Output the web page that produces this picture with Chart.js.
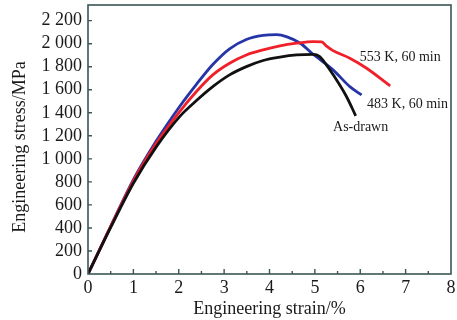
<!DOCTYPE html>
<html lang="en">

<head>
    <meta charset="UTF-8">
    <title>Engineering stress-strain curves</title>
    <script src="https://cdn.jsdelivr.net/npm/chart.js"></script>
    <style>
        body {
            margin: 0;
            padding: 0;
            background: #ffffff;
        }

        .chart-container {
            position: relative;
            width: 457px;
            height: 320px;
        }
    </style>
</head>

<body>
    <div class="chart-container">
        <canvas id="stressStrainChart"></canvas>
    </div>

    <script>
        // As-drawn
        const drawnStrain = [0, 0.5, 1.0, 1.5, 2.02, 2.39, 2.75, 3.12, 3.49, 3.86, 4.23, 4.6, 4.96, 5.1, 5.25, 5.4, 5.69, 5.9];
        const drawnStress = [0, 404, 788, 1102, 1367, 1506, 1627, 1729, 1801, 1854, 1883, 1902, 1908, 1890, 1819, 1733, 1546, 1374];

        // 483 K, 60 min
        const k483Strain = [0, 0.5, 1.0, 1.5, 2.02, 2.39, 2.75, 3.12, 3.49, 3.86, 4.16, 4.37, 4.68, 4.96, 5.4, 5.77, 6.03];
        const k483Stress = [0, 414, 819, 1152, 1455, 1647, 1819, 1956, 2037, 2072, 2078, 2062, 2004, 1908, 1773, 1627, 1555];

        // 553 K, 60 min
        const k553Strain = [0, 0.5, 1.0, 1.5, 2.02, 2.39, 2.75, 3.12, 3.49, 3.86, 4.23, 4.6, 4.96, 5.15, 5.25, 5.4, 5.77, 6.14, 6.66];
        const k553Stress = [0, 414, 809, 1132, 1411, 1585, 1729, 1830, 1902, 1946, 1981, 2004, 2018, 2016, 1981, 1940, 1874, 1787, 1633];

        const yTickValues = [0, 200, 400, 600, 800, 1000, 1200, 1400, 1600, 1800, 2000, 2200];

        const curveLabels = [
            { text: '553 K, 60 min', x: 5.99, y: 1885 },
            { text: '483 K, 60 min', x: 6.15, y: 1477 },
            { text: 'As-drawn', x: 5.40, y: 1278 }
        ];

        const toPoints = (xs, ys) => xs.map((x, i) => ({ x: x, y: ys[i] }));
        const frameColor = '#3b5656';
        const serif = "'Liberation Serif', 'DejaVu Serif', serif";
        const noPad = s => { s.paddingTop = 0; s.paddingBottom = 0; s.paddingLeft = 0; s.paddingRight = 0; };

        // frame, inward ticks and text labels
        const framePlugin = {
            id: 'framePlugin',
            afterDraw(chart) {
                const ctx = chart.ctx;
                const area = chart.chartArea;
                const xs = chart.scales.x;
                const ys = chart.scales.y;
                ctx.save();
                ctx.strokeStyle = frameColor;
                ctx.lineWidth = 1.6;
                ctx.strokeRect(area.left, area.top, area.right - area.left, area.bottom - area.top);

                ctx.lineWidth = 1.4;
                ctx.beginPath();
                for (let v = 0.5; v < 8; v += 0.5) {
                    const px = xs.getPixelForValue(v);
                    const len = Number.isInteger(v) ? 5 : 3;
                    ctx.moveTo(px, area.bottom);
                    ctx.lineTo(px, area.bottom - len);
                }
                yTickValues.slice(1).forEach(v => {
                    const py = ys.getPixelForValue(v);
                    ctx.moveTo(area.left, py);
                    ctx.lineTo(area.left + 4, py);
                });
                ctx.stroke();

                ctx.fillStyle = '#1a1a1a';
                ctx.font = '14px ' + serif;
                ctx.textAlign = 'left';
                ctx.textBaseline = 'middle';
                curveLabels.forEach(l => {
                    ctx.fillText(l.text, xs.getPixelForValue(l.x), ys.getPixelForValue(l.y));
                });

                ctx.font = '18px ' + serif;
                ctx.textAlign = 'center';
                ctx.translate(20, 147);
                ctx.rotate(-Math.PI / 2);
                ctx.fillText('Engineering stress/MPa', 0, 0);
                ctx.restore();
            }
        };

        const ctx = document.getElementById('stressStrainChart').getContext('2d');
        new Chart(ctx, {
            type: 'scatter',
            data: {
                datasets: [
                    {
                        label: 'As-drawn',
                        data: toPoints(drawnStrain, drawnStress),
                        borderColor: '#111111',
                    },
                    {
                        label: '553 K, 60 min',
                        data: toPoints(k553Strain, k553Stress),
                        borderColor: '#f0202a',
                    },
                    {
                        label: '483 K, 60 min',
                        data: toPoints(k483Strain, k483Stress),
                        borderColor: '#2535a8',
                    }
                ].map(d => Object.assign(d, {
                    showLine: true,
                    borderWidth: 2.8,
                    pointRadius: 0,
                    cubicInterpolationMode: 'monotone',
                    fill: false
                }))
            },
            options: {
                responsive: true,
                maintainAspectRatio: false,
                animation: false,
                layout: { padding: { top: 5, right: 6, left: 0, bottom: 0 } },
                plugins: {
                    legend: { display: false },
                    tooltip: { enabled: false }
                },
                scales: {
                    x: {
                        type: 'linear',
                        min: 0,
                        max: 8,
                        afterFit: s => { s.height = 46; noPad(s); },
                        grid: { display: false, drawTicks: false },
                        border: { display: false },
                        ticks: {
                            stepSize: 1,
                            padding: 3,
                            autoSkip: false,
                            maxRotation: 0,
                            color: '#1a1a1a',
                            font: { family: serif, size: 18 }
                        },
                        title: {
                            display: true,
                            text: 'Engineering strain/%',
                            color: '#1a1a1a',
                            padding: { top: 1, bottom: 0 },
                            font: { family: serif, size: 18 }
                        }
                    },
                    y: {
                        min: 0,
                        max: 2336,
                        afterFit: s => { s.width = 88; noPad(s); },
                        afterBuildTicks: s => {
                            s.ticks = yTickValues.map(v => ({ value: v }));
                        },
                        grid: { display: false, drawTicks: false },
                        border: { display: false },
                        ticks: {
                            padding: 6,
                            autoSkip: false,
                            color: '#1a1a1a',
                            font: { family: serif, size: 18 },
                            callback: v => v >= 1000 ? Math.floor(v / 1000) + ' ' + String(v % 1000).padStart(3, '0') : String(v)
                        }
                    }
                }
            },
            plugins: [framePlugin]
        });
    </script>
</body>

</html>
